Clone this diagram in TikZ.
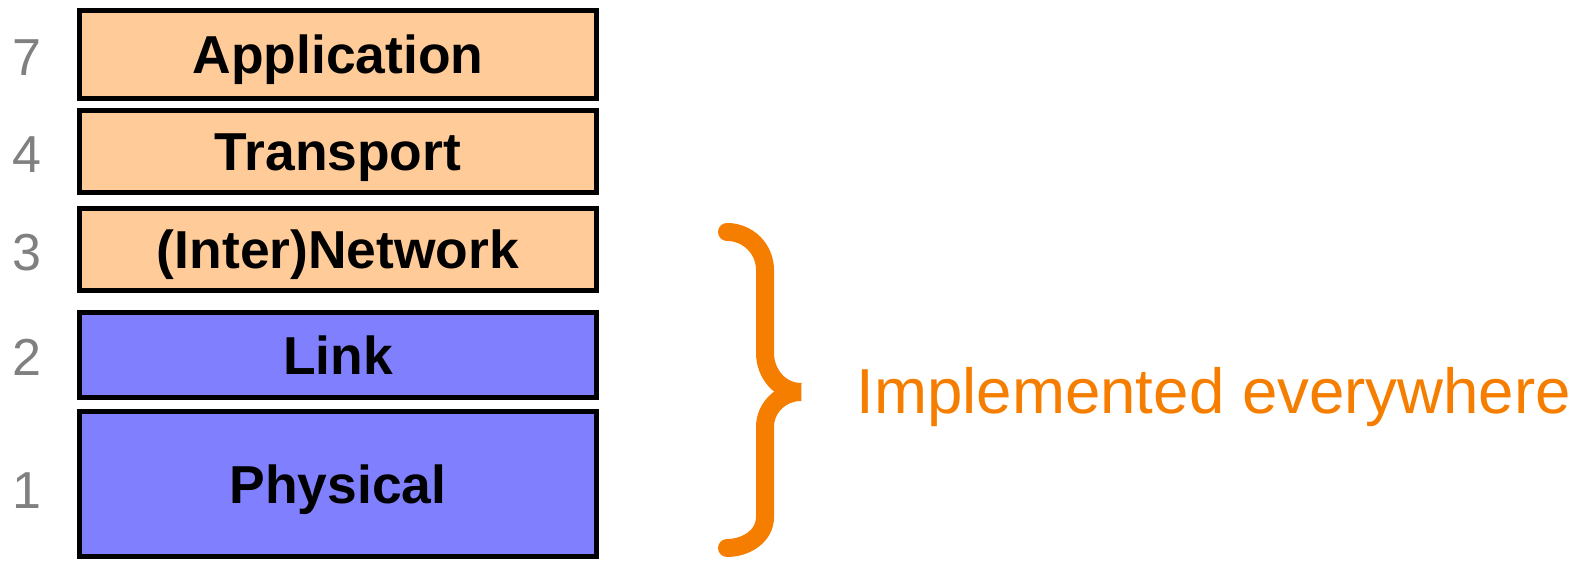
\documentclass[tikz,border=0pt]{standalone}
\usepackage{fontspec}
\setmainfont{Liberation Sans}
\usetikzlibrary{positioning}
\definecolor{peach}{RGB}{255,204,153}
\definecolor{lilac}{RGB}{128,128,255}
\definecolor{brace}{RGB}{245,125,0}
\tikzset{layer/.style={draw=black,line width=0.05cm,minimum width=5.17cm,inner sep=0pt,text height=10.9pt,text depth=0pt,font=\fontsize{15.2}{16}\selectfont\bfseries}}

\begin{document}
\begin{tikzpicture}[
            upper/.style={layer,fill=peach},
            lower/.style={layer,fill=lilac},
            num/.style={inner sep=0pt,text=black!50,font=\fontsize{14.8}{16}\selectfont}
        ]
            \useasboundingbox (0,0) rectangle (15.85,5.61);
            \node [upper,minimum height=0.88cm] (app) at (3.38,5.065) {Application};
            \node [upper,minimum height=0.82cm,below=0.07cm of app] (trans) {Transport};
            \node [upper,minimum height=0.82cm,below=0.11cm of trans] (net) {(Inter)Network};
            \node [lower,minimum height=0.85cm,below=0.17cm of net] (link) {Link};
            \node [lower,minimum height=1.45cm,below=0.09cm of link] (phys) {Physical};
            \foreach \n/\l/\s in {app/7/-0.03,trans/4/-0.03,net/3/-0.03,link/2/-0.02,phys/1/-0.07} {
                \node [num,left=0.35cm of \n,yshift=\s cm] (num-\n) {\l};
            }
            \begin{scope}[
                every path/.append style={brace,line width=0.18cm,line cap=round}
            ]
                \coordinate (tip) at (8.01,1.69);
                \draw (7.27,3.29) to [out=0,in=90] (7.65,2.91) -- (7.65,2.08)
                    to [out=-90,in=180] (tip)
                    to [out=180,in=90] (7.65,1.34) -- (7.65,0.44)
                    to [out=-90,in=0] (7.27,0.13);
            \end{scope}
            \node [inner sep=0pt,text=brace,font=\fontsize{18.1}{20}\selectfont,right=0.55cm of tip,yshift=-0.05cm] (impl) {Implemented everywhere};
        \end{tikzpicture}
\end{document}
